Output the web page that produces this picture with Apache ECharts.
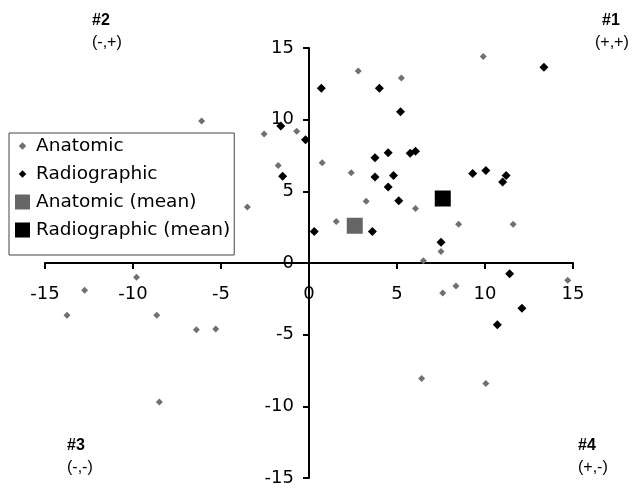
<!DOCTYPE html>
<html lang="en">
<head>
    <meta charset="UTF-8">
    <title>Anatomic vs Radiographic</title>
    <style>
        html, body { margin: 0; padding: 0; background: #fff; }
        #chart { width: 633px; height: 491px; }
    </style>
    <script type="text/javascript" src="https://cdn.jsdelivr.net/npm/echarts/dist/echarts.min.js"></script>
</head>
<body>
<div id="chart"></div>

<script>
    // axis ticks (both axes)
    var axisMin = -15;
    var axisMax = 15;
    var axisStep = 5;

    // Anatomic points [x, y]
    var anatomic = [
        [9.9, 14.4], [2.8, 13.4], [5.25, 12.9], [0.75, 7.0], [2.4, 6.3],
        [3.25, 4.3], [6.05, 3.8], [1.55, 2.9], [8.5, 2.7], [11.6, 2.7],
        [7.5, 0.8], [6.5, 0.15], [14.7, -1.2], [8.35, -1.6], [7.6, -2.1],
        [6.4, -8.05], [10.05, -8.4], [-9.8, -1.0], [-12.75, -1.9], [-13.75, -3.65],
        [-8.65, -3.65], [-6.4, -4.65], [-5.3, -4.6], [-8.5, -9.7], [-6.1, 9.9],
        [-2.55, 9.0], [-0.7, 9.2], [-1.75, 6.8], [-3.5, 3.9]
    ];

    // Radiographic points [x, y]
    var radiographic = [
        [13.35, 13.65], [0.7, 12.2], [4.0, 12.2], [5.2, 10.55], [-0.2, 8.6],
        [-1.6, 9.55], [-1.5, 6.05], [3.75, 7.35], [4.5, 7.7], [5.75, 7.65],
        [6.05, 7.8], [3.75, 6.0], [4.8, 6.1], [4.5, 5.3], [9.3, 6.25],
        [10.05, 6.45], [11.2, 6.1], [11.0, 5.65], [5.1, 4.35], [0.3, 2.2],
        [3.6, 2.2], [7.5, 1.45], [11.4, -0.75], [12.1, -3.15], [10.7, -4.3]
    ];

    var anatomicMean = [[2.6, 2.6]];
    var radiographicMean = [[7.6, 4.5]];

    // quadrant names
    var quadNames = ['#1', '#2', '#3', '#4'];
    var quadSigns = ['(+,+)', '(-,+)', '(-,-)', '(+,-)'];

    var grey = '#707070';
    var font = 'DejaVu Sans, Verdana, sans-serif';
    var quadFont = 'Liberation Sans, Arial, sans-serif';
    // icons drawn inside a 14x14 box so both kinds line up in the legend
    var smallDiamond = 'path://M0,0 M14,14 M7,3.5 L10.5,7 L7,10.5 L3.5,7 Z';
    var square = 'path://M0,0 L14,0 L14,14 L0,14 Z';

    // grid box: axes cross in the middle
    var gLeft = 45, gRight = 60, gTop = 48, gBottom = 13;
    var gW = 633 - gLeft - gRight;
    var gH = 491 - gTop - gBottom;

    var chart = echarts.init(document.getElementById('chart'));

    function axis() {
        return {
            type: 'value',
            min: axisMin,
            max: axisMax,
            interval: axisStep,
            splitLine: {show: false},
            axisLine: {onZero: false, lineStyle: {color: '#000', width: 2}},
            axisTick: {show: true, length: 6, lineStyle: {color: '#000', width: 2}},
            axisLabel: {color: '#000', fontSize: 18, fontFamily: font, showMinLabel: true, showMaxLabel: true}
        };
    }

    var xAxis = axis();
    xAxis.position = 'bottom';
    xAxis.offset = -gH / 2;
    xAxis.axisLabel.margin = 22;
    var yAxis = axis();
    yAxis.position = 'left';
    yAxis.offset = -gW / 2;
    yAxis.axisLabel.margin = 15;

    function label(text, left, top, bold) {
        return {
            type: 'text',
            left: left,
            top: top,
            z: 10,
            style: {
                text: text,
                fill: '#000',
                font: (bold ? 'bold ' : '') + '16px ' + quadFont
            }
        };
    }

    var option = {
        animation: false,
        backgroundColor: '#fff',
        grid: {left: gLeft, right: gRight, top: gTop, bottom: gBottom, containLabel: false, outerBoundsMode: 'none'},
        xAxis: xAxis,
        yAxis: yAxis,
        legend: {
            orient: 'vertical',
            left: 9,
            top: 133,
            padding: [3, 4, 15, 6],
            itemGap: 8,
            itemWidth: 17,
            itemHeight: 15,
            itemStyle: {borderWidth: 0},
            backgroundColor: '#fff',
            borderColor: '#444',
            borderWidth: 1,
            borderRadius: 0,
            z: 20,
            textStyle: {color: '#000', fontSize: 18.5, fontFamily: font, lineHeight: 20},
            data: [
                {name: 'Anatomic', icon: smallDiamond},
                {name: 'Radiographic', icon: smallDiamond},
                {name: 'Anatomic (mean)', icon: square},
                {name: 'Radiographic (mean)', icon: square}
            ]
        },
        graphic: [
            label(quadNames[0], 602, 13, true),
            label(quadSigns[0], 595, 35, false),
            label(quadNames[1], 92, 13, true),
            label(quadSigns[1], 92, 35, false),
            label(quadNames[2], 67, 438, true),
            label(quadSigns[2], 67, 460, false),
            label(quadNames[3], 578, 438, true),
            label(quadSigns[3], 578, 460, false)
        ],
        series: [
            {
                name: 'Anatomic',
                type: 'scatter',
                symbol: 'diamond',
                symbolSize: 7,
                itemStyle: {color: grey, opacity: 1},
                data: anatomic
            },
            {
                name: 'Radiographic',
                type: 'scatter',
                symbol: 'diamond',
                symbolSize: 9,
                itemStyle: {color: '#000', opacity: 1},
                data: radiographic
            },
            {
                name: 'Anatomic (mean)',
                type: 'scatter',
                symbol: 'rect',
                symbolSize: 16,
                itemStyle: {color: '#666', opacity: 1},
                data: anatomicMean
            },
            {
                name: 'Radiographic (mean)',
                type: 'scatter',
                symbol: 'rect',
                symbolSize: 16,
                itemStyle: {color: '#000', opacity: 1},
                data: radiographicMean
            }
        ]
    };

    chart.setOption(option);
</script>
</body>
</html>
